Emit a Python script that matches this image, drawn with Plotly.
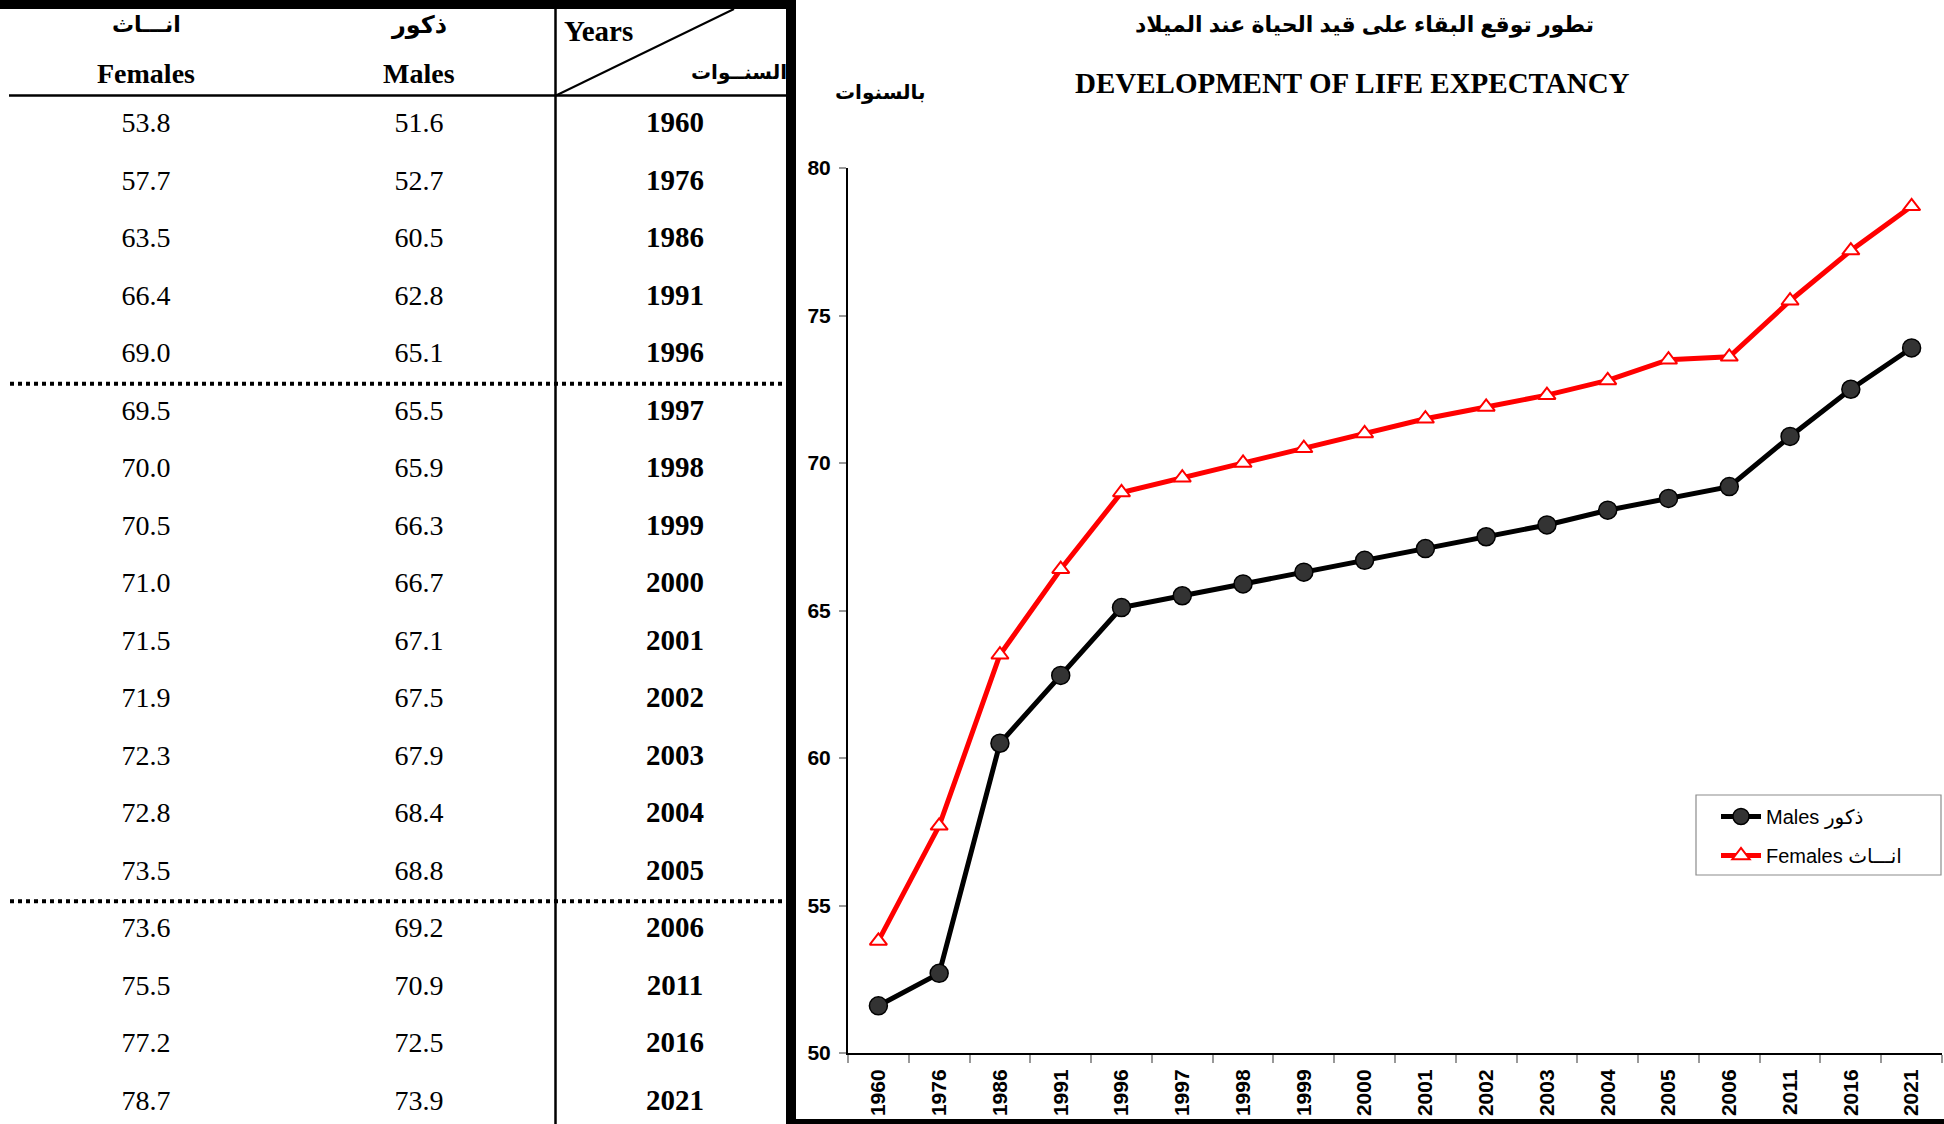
import plotly.graph_objects as go

# ---------------- data ----------------
years = ["1960", "1976", "1986", "1991", "1996", "1997", "1998", "1999", "2000",
         "2001", "2002", "2003", "2004", "2005", "2006", "2011", "2016", "2021"]
males = [51.6, 52.7, 60.5, 62.8, 65.1, 65.5, 65.9, 66.3, 66.7,
         67.1, 67.5, 67.9, 68.4, 68.8, 69.2, 70.9, 72.5, 73.9]
females = [53.8, 57.7, 63.5, 66.4, 69.0, 69.5, 70.0, 70.5, 71.0,
           71.5, 71.9, 72.3, 72.8, 73.5, 73.6, 75.5, 77.2, 78.7]
y_ticks = [50, 55, 60, 65, 70, 75, 80]

title_ar = "تطور توقع البقاء على قيد الحياة عند الميلاد"
title_en = "DEVELOPMENT OF LIFE EXPECTANCY"
y_unit_ar = "بالسنوات"
males_label = "Males ذكور"
females_label = "Females انـــاث"
hdr_fem_ar, hdr_fem_en = "انـــاث", "Females"
hdr_mal_ar, hdr_mal_en = "ذكور", "Males"
hdr_year_en, hdr_year_ar = "Years", "السنــوات"
section_breaks = [4.5, 13.5]   # dotted separators in the table (between rows)

# ---------------- geometry ----------------
W, H = 1944, 1124
def px(x):
    return x / W
def py(y):
    return 1 - y / H

TABLE_RIGHT = 795
FIRST_ROW_PX = 125
ROW_STEP = 57.5
COL_FEM, COL_MAL, COL_YEAR = 146, 419, 675

SERIF = "Times New Roman, Liberation Serif, DejaVu Serif, serif"
SANS = "Arial, Liberation Sans, DejaVu Sans, sans-serif"

fig = go.Figure()

# ---------------- chart ----------------
fig.add_trace(go.Scatter(
    x=years, y=males, mode="lines+markers", name=males_label, legendgroup="m",
    line=dict(color="#000000", width=5),
    marker=dict(symbol="circle", size=18, color="#333333",
                line=dict(color="#000000", width=1.5)),
    xaxis="x", yaxis="y"))
fig.add_trace(go.Scatter(
    x=years, y=females, mode="lines+markers", name=females_label, legendgroup="f",
    line=dict(color="#ff0000", width=5),
    marker=dict(symbol="triangle-up", size=15, color="#ffffff",
                line=dict(color="#ff0000", width=2)),
    xaxis="x", yaxis="y"))

# ---------------- table (as text traces on its own axes) ----------------
rows = list(range(len(years)))
fig.add_trace(go.Scatter(
    x=[COL_FEM] * len(rows), y=rows, mode="text",
    text=[f"{v:.1f}" for v in females], showlegend=False, hoverinfo="skip",
    textfont=dict(family=SERIF, size=28, color="#000000"),
    xaxis="x2", yaxis="y2"))
fig.add_trace(go.Scatter(
    x=[COL_MAL] * len(rows), y=rows, mode="text",
    text=[f"{v:.1f}" for v in males], showlegend=False, hoverinfo="skip",
    textfont=dict(family=SERIF, size=28, color="#000000"),
    xaxis="x2", yaxis="y2"))
fig.add_trace(go.Scatter(
    x=[COL_YEAR] * len(rows), y=rows, mode="text",
    text=[f"<b>{y}</b>" for y in years], showlegend=False, hoverinfo="skip",
    textfont=dict(family=SERIF, size=29, color="#000000"),
    xaxis="x2", yaxis="y2"))

top_row = -FIRST_ROW_PX / ROW_STEP
bot_row = (H - FIRST_ROW_PX) / ROW_STEP

shapes = []
for b in section_breaks:
    shapes.append(dict(type="line", xref="x2", yref="y2", x0=10, x1=789, y0=b, y1=b,
                       line=dict(color="#000000", width=4, dash="dot")))
shapes.append(dict(type="line", xref="paper", yref="paper", x0=px(0), x1=px(TABLE_RIGHT),
                   y0=py(4.5), y1=py(4.5), line=dict(color="#000000", width=9)))
shapes.append(dict(type="line", xref="paper", yref="paper", x0=px(9), x1=px(789),
                   y0=py(95.5), y1=py(95.5), line=dict(color="#000000", width=2.5)))
shapes.append(dict(type="line", xref="paper", yref="paper", x0=px(555.5), x1=px(555.5),
                   y0=py(9), y1=py(H), line=dict(color="#000000", width=2.5)))
shapes.append(dict(type="line", xref="paper", yref="paper", x0=px(556), x1=px(734),
                   y0=py(95.5), y1=py(9), line=dict(color="#000000", width=2)))
shapes.append(dict(type="line", xref="paper", yref="paper", x0=px(791), x1=px(791),
                   y0=py(0), y1=py(H), line=dict(color="#000000", width=10)))
shapes.append(dict(type="line", xref="paper", yref="paper", x0=px(786), x1=px(W),
                   y0=py(1121.5), y1=py(1121.5), line=dict(color="#000000", width=5)))
# legend frame
shapes.append(dict(type="rect", xref="paper", yref="paper", x0=px(1696), x1=px(1941),
                   y0=py(875), y1=py(795), fillcolor="#ffffff",
                   line=dict(color="#8c8c8c", width=1.2), layer="below"))

annotations = []
def ann(text, x, y, size, family, xanchor="center", bold=True):
    annotations.append(dict(
        text=f"<b>{text}</b>" if bold else text, x=px(x), y=py(y),
        xref="paper", yref="paper", xanchor=xanchor, yanchor="middle",
        showarrow=False, font=dict(family=family, size=size, color="#000000")))

ann(hdr_fem_ar, COL_FEM, 25, 22, SANS)
ann(hdr_fem_en, COL_FEM, 74, 28, SERIF)
ann(hdr_mal_ar, COL_MAL, 25, 24, SANS)
ann(hdr_mal_en, COL_MAL, 74, 28, SERIF)
ann(hdr_year_en, 562, 31, 29, SERIF, xanchor="left")
ann(hdr_year_ar, 789, 72, 20, SANS, xanchor="right")
ann(title_ar, 1364, 25, 22, SANS)
ann(title_en, 1352, 83, 29, SERIF)
ann(y_unit_ar, 880, 93, 20, SANS)

fig.update_layout(
    width=W, height=H, autosize=False,
    margin=dict(l=0, r=0, t=0, b=0, pad=0, autoexpand=False),
    paper_bgcolor="#ffffff", plot_bgcolor="rgba(0,0,0,0)",
    showlegend=True,
    legend=dict(x=px(1716), y=py(797), xanchor="left", yanchor="top",
                borderwidth=0, bgcolor="rgba(0,0,0,0)",
                font=dict(family=SANS, size=20, color="#000000"),
                itemwidth=40, tracegroupgap=10),
    xaxis=dict(domain=[px(848), px(1942)], type="category",
               categoryorder="array", categoryarray=years,
               range=[-0.5, len(years) - 0.5],
               tickvals=years, ticktext=[f"<b>{y}</b>" for y in years],
               showline=True, linecolor="#000000", linewidth=2,
               ticks="outside", tickson="boundaries", ticklen=8, tickcolor="#999999",
               tickwidth=1.5, tickangle=-90, showgrid=False, zeroline=False,
               tickfont=dict(family=SANS, size=21, color="#000000"),
               ticklabelstandoff=6, anchor="y", fixedrange=True, automargin=False),
    yaxis=dict(domain=[py(1053), py(168)], range=[50, 80],
               tickvals=y_ticks, ticktext=[f"<b>{t}</b>" for t in y_ticks],
               showline=True, linecolor="#000000", linewidth=2,
               ticks="outside", ticklen=7, tickcolor="#999999", tickwidth=1.5,
               showgrid=False, zeroline=False,
               tickfont=dict(family=SANS, size=21, color="#000000"),
               ticklabelstandoff=4, anchor="x", fixedrange=True, automargin=False),
    xaxis2=dict(domain=[0, px(TABLE_RIGHT)], range=[0, TABLE_RIGHT],
                visible=False, fixedrange=True, anchor="y2", automargin=False),
    yaxis2=dict(domain=[0, 1], range=[bot_row, top_row],
                visible=False, fixedrange=True, anchor="x2", automargin=False),
    shapes=shapes,
    annotations=annotations,
)

fig.write_html("out.html",
               config={"responsive": False, "displayModeBar": False},
               post_script="document.body.style.margin='0px';document.body.style.overflow='hidden';")
